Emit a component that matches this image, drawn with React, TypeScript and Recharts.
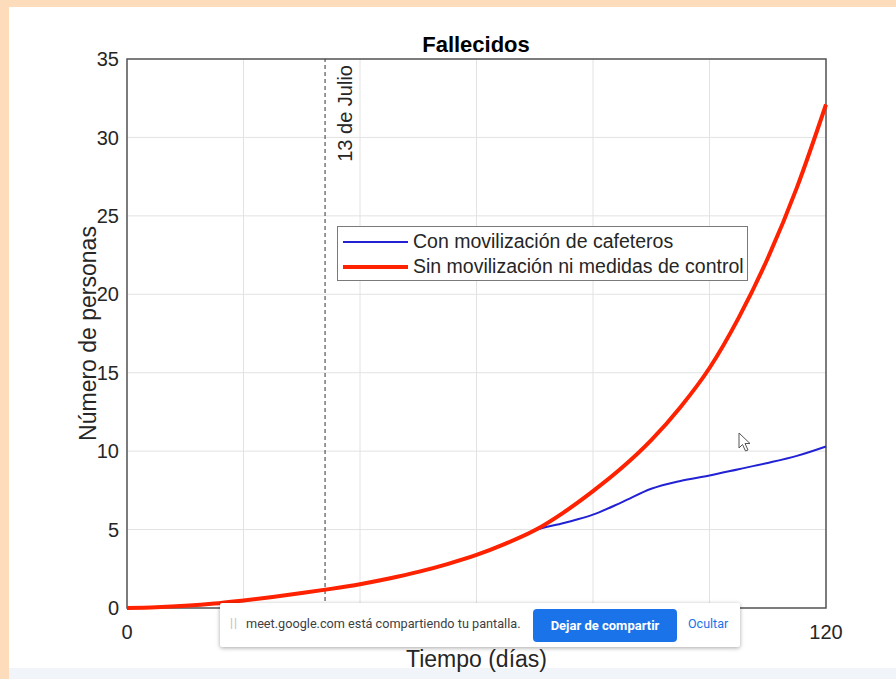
import { LineChart, Line, XAxis, YAxis, CartesianGrid, ReferenceLine, ReferenceArea, Legend, Label } from "recharts";

// días desde el inicio de la simulación
const DAYS = [0, 5, 10, 15, 20, 25, 30, 35, 40, 45, 50, 55, 60, 65, 70, 75, 80, 85, 90, 95, 100, 105, 110, 115, 120];

// Sin movilización ni medidas de control
const SIN_MOVILIZACION = [0, 0.05, 0.14, 0.28, 0.48, 0.7, 0.95, 1.22, 1.52, 1.88, 2.3, 2.8, 3.38, 4.1, 4.95, 6.1, 7.45, 8.95, 10.7, 12.8, 15.3, 18.5, 22.3, 26.8, 32.1];

// Con movilización de cafeteros
const CON_MOVILIZACION = [0, 0.05, 0.14, 0.28, 0.48, 0.7, 0.95, 1.22, 1.52, 1.88, 2.3, 2.8, 3.38, 4.1, 4.95, 5.42, 5.95, 6.75, 7.6, 8.1, 8.45, 8.85, 9.25, 9.7, 10.3];

const X_TICKS = [0, 20, 40, 60, 80, 100, 120];
// the other x labels sit under the screen-share bar in the capture
const X_LABELS_SHOWN = [0, 120];
const Y_TICKS = [0, 5, 10, 15, 20, 25, 30, 35];
const MARKER_DAY = 34;
const MARKER_TEXT = "13 de Julio";

const SERIES = [
  { key: "con", name: "Con movilización de cafeteros", color: "#2222d4", width: 2 },
  { key: "sin", name: "Sin movilización ni medidas de control", color: "#ff2200", width: 4 },
];

const FONT = "'Liberation Sans', Arial, Helvetica, sans-serif";
const TEXT = "#262626";

const data = DAYS.map((d, i) => ({ dia: d, con: CON_MOVILIZACION[i], sin: SIN_MOVILIZACION[i] }));

function MarkerLabel(props: any) {
  const { viewBox } = props;
  const x = viewBox.x + 27;
  const y = viewBox.y + 6;
  return (
    <text x={x} y={y} transform={`rotate(-90 ${x} ${y})`} textAnchor="end" fontSize={20} fontFamily={FONT} fill={TEXT}>
      {MARKER_TEXT}
    </text>
  );
}

function LegendBox(props: any) {
  const payload = props.payload || [];
  return (
    <div
      style={{
        width: 409,
        height: 53,
        background: "#fff",
        border: "1px solid #7a7a7a",
        fontFamily: FONT,
        fontSize: 19.5,
        color: TEXT,
        boxSizing: "content-box",
      }}
    >
      {payload.map((p: any) => {
        const s = SERIES.find((x) => x.key === p.dataKey);
        return (
          <div key={p.dataKey} style={{ display: "flex", alignItems: "center", height: 25, marginTop: p.dataKey === "con" ? 2 : 0 }}>
            <svg width={70} height={10} style={{ marginLeft: 5 }}>
              <line x1={0} x2={65} y1={5} y2={5} stroke={p.color} strokeWidth={s ? s.width : 2} />
            </svg>
            <span style={{ whiteSpace: "nowrap" }}>{p.value}</span>
          </div>
        );
      })}
    </div>
  );
}

export default function App() {
  return (
    <div style={{ position: "absolute", left: 0, top: 0, width: 896, height: 679, background: "#fcdcba", overflow: "hidden" }}>
      <div style={{ position: "absolute", left: 9, top: 7, right: 0, bottom: 0, background: "#fff" }} />
      <div style={{ position: "absolute", left: 9, right: 0, top: 668, bottom: 0, background: "#f1f5f9" }} />

      <div style={{ position: "absolute", left: 0, top: 0 }}>
        <LineChart width={896} height={679} data={data} margin={{ top: 59, right: 70, bottom: 41, left: 0 }}>
          <CartesianGrid stroke="#e2e2e2" strokeWidth={1} />
          <XAxis
            dataKey="dia"
            type="number"
            domain={[0, 120]}
            ticks={X_TICKS}
            tickFormatter={(v: number) => (X_LABELS_SHOWN.includes(v) ? String(v) : "")}
            axisLine={false}
            tickLine={false}
            tickSize={0}
            tickMargin={17}
            height={30}
            tick={{ fontSize: 20, fill: TEXT, fontFamily: FONT }}
          >
            <Label value="Tiempo (días)" position="bottom" offset={13} style={{ fontSize: 23, fill: TEXT, fontFamily: FONT }} />
          </XAxis>
          <YAxis
            type="number"
            domain={[0, 35]}
            ticks={Y_TICKS}
            axisLine={false}
            tickLine={false}
            tickSize={0}
            tickMargin={8}
            width={127}
            tick={{ fontSize: 20, fill: TEXT, fontFamily: FONT }}
          >
            <Label
              value="Número de personas"
              angle={-90}
              position="insideLeft"
              offset={88}
              style={{ fontSize: 23, fill: TEXT, fontFamily: FONT, textAnchor: "middle" }}
            />
          </YAxis>
          <ReferenceArea x1={0} x2={120} y1={0} y2={35} fill="none" fillOpacity={0} stroke="#555" strokeWidth={1.5} />
          <ReferenceLine x={MARKER_DAY} stroke="#333" strokeDasharray="4 3" strokeWidth={1} label={<MarkerLabel />} />
          {SERIES.map((s) => (
            <Line
              key={s.key}
              dataKey={s.key}
              name={s.name}
              type="monotone"
              stroke={s.color}
              strokeWidth={s.width}
              dot={false}
              activeDot={false}
              isAnimationActive={false}
            />
          ))}
          <Legend
            layout="vertical"
            align="center"
            verticalAlign="middle"
            content={<LegendBox />}
            wrapperStyle={{ position: "absolute", left: 337, top: 226, width: 411, height: 55 }}
          />
        </LineChart>
      </div>

      <svg width={896} height={679} style={{ position: "absolute", left: 0, top: 0, pointerEvents: "none" }}>
        <text x={476} y={52} textAnchor="middle" fontSize={22} fontWeight="bold" fontFamily={FONT} fill="#000">
          Fallecidos
        </text>
      </svg>

      <svg width={14} height={22} style={{ position: "absolute", left: 738, top: 432 }}>
        <path d="M1 1 L1 16 L4.5 12.5 L7.5 19 L10 18 L7 11.5 L12 11.5 Z" fill="#fff" stroke="#555" strokeWidth={1} />
      </svg>

      <div
        style={{
          position: "absolute",
          left: 220,
          top: 603,
          width: 520,
          height: 44,
          background: "#fff",
          boxShadow: "0 1px 4px rgba(0,0,0,0.35)",
          borderRadius: 2,
          fontFamily: "Roboto, 'Noto Sans', sans-serif",
        }}
      >
        <span style={{ position: "absolute", left: 10, top: 13, fontSize: 12, color: "#bbb", letterSpacing: 1 }}>||</span>
        <span style={{ position: "absolute", left: 26, top: 13, fontSize: 12.7, color: "#3c4043", whiteSpace: "nowrap" }}>
          meet.google.com está compartiendo tu pantalla.
        </span>
        <div
          style={{
            position: "absolute",
            left: 313,
            top: 6,
            width: 144,
            height: 33,
            background: "#1a73e8",
            borderRadius: 4,
            color: "#fff",
            fontSize: 13,
            fontWeight: 700,
            display: "flex",
            alignItems: "center",
            justifyContent: "center",
          }}
        >
          Dejar de compartir
        </div>
        <span style={{ position: "absolute", left: 468, top: 13, fontSize: 12.5, color: "#1a73e8" }}>Ocultar</span>
      </div>
    </div>
  );
}
